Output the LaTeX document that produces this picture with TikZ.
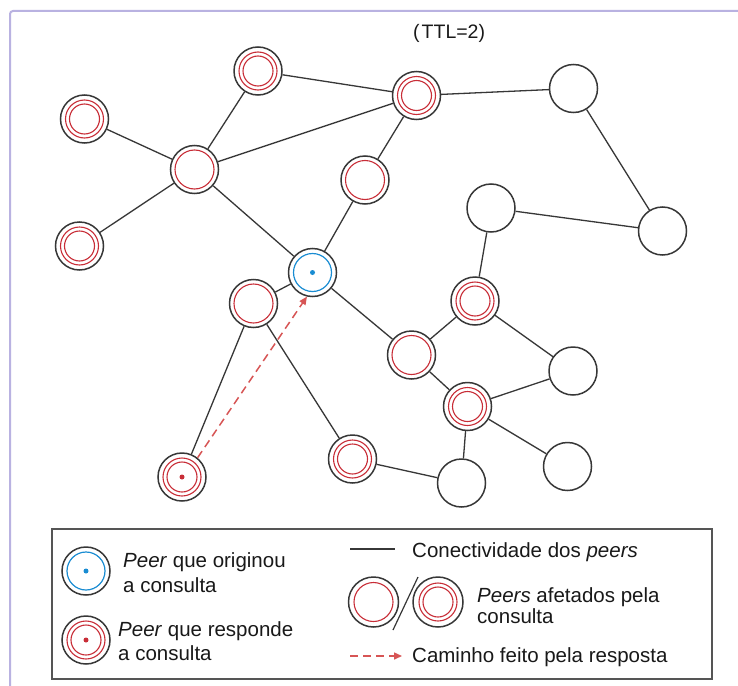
\documentclass[tikz,border=0pt]{standalone}
\usepackage{fontspec}
\setmainfont{Liberation Sans}
\usetikzlibrary{arrows.meta}
\definecolor{edgec}{RGB}{55,55,55}
\definecolor{peerred}{RGB}{200,45,55}
\definecolor{arrowred}{RGB}{215,85,85}
\definecolor{peerblue}{RGB}{25,140,210}
\definecolor{framec}{RGB}{185,178,225}
\definecolor{boxc}{RGB}{85,85,85}
\definecolor{txt}{RGB}{25,25,25}
\newcommand{\lgfont}{\fontsize{20.5}{24}\selectfont}
\newcommand{\ttlfont}{\fontsize{19.5}{23}\selectfont}
\begin{document}
\begin{tikzpicture}[x=1pt,y=-1pt,
  peer/.style={circle,draw=edgec,line width=1.5pt,minimum size=48pt,inner sep=0pt,fill=white},
  redring/.style={draw=peerred,line width=1.1pt},
  bluering/.style={draw=peerblue,line width=1.2pt},
  free/.style={peer},
  one/.style={peer,path picture={\draw[redring] (path picture bounding box.center) circle (19.5);}},
  two/.style={peer,path picture={\draw[redring] (path picture bounding box.center) circle (19) (path picture bounding box.center) circle (15);}},
  orig/.style={peer,path picture={\draw[bluering] (path picture bounding box.center) circle (19); \fill[peerblue] (path picture bounding box.center) circle (2.5);}},
  resp/.style={peer,path picture={\draw[redring] (path picture bounding box.center) circle (19) (path picture bounding box.center) circle (15); \fill[peerred] (path picture bounding box.center) circle (2.5);}},
  link/.style={draw=edgec,line width=1.3pt},
  answer/.style={draw=arrowred,line width=1.5pt,dash pattern=on 8pt off 5pt,-{Triangle[length=8pt,width=7pt]}},
  lbl/.style={inner sep=0pt,anchor=base west,text=txt,font=\lgfont},
  frame/.style={draw=framec,line width=2pt,rounded corners=3pt},
  legendbox/.style={draw=boxc,line width=1.5pt}
]
\useasboundingbox (0,0) rectangle (738,685);
\fill[white] (0,0) rectangle (738,685);
\draw[frame] (10,686) -- (10,11) -- (739,11);

% title
\node[inner sep=0pt,anchor=base west,text=txt,font=\ttlfont] (ttl) at (413,39) {(\hspace{2pt}TTL=2)};

% peers
\node[two]  (A) at (258,71) {};
\node[two]  (B) at (84.5,119) {};
\node[one]  (C) at (194.5,169.5) {};
\node[two]  (D) at (79.5,246) {};
\node[two]  (E) at (416.5,95.5) {};
\node[free] (F) at (573.5,88.5) {};
\node[one]  (G) at (365,180) {};
\node[free] (H) at (491,208) {};
\node[free] (I) at (662.5,231) {};
\node[orig] (J) at (312.5,272.5) {};
\node[one]  (K) at (253.5,303.5) {};
\node[two]  (L) at (475,301) {};
\node[one]  (M) at (411.5,355) {};
\node[free] (N) at (573,371) {};
\node[two]  (O) at (467.5,406.5) {};
\node[resp] (P) at (182,477) {};
\node[two]  (Q) at (352.5,459) {};
\node[free] (R) at (461.5,483) {};
\node[free] (S) at (567.5,466.5) {};

% connections
\path[link] (A) -- (C) (A) -- (E) (B) -- (C) (C) -- (E) (C) -- (D) (C) -- (J)
  (E) -- (F) (E) -- (G) (G) -- (J) (F) -- (I) (H) -- (I) (H) -- (L)
  (J) -- (M) (J) -- (K) (K) -- (P) (K) -- (Q) (L) -- (M) (L) -- (N)
  (M) -- (O) (O) -- (N) (O) -- (R) (O) -- (S) (Q) -- (R);

% answer path
\draw[answer] (P.51) -- (J.257);

% legend
\draw[legendbox] (52,529) rectangle (712,679);
\node[orig] (lgO) at (86,571) {};
\node[resp] (lgR) at (86,640) {};
\node[lbl] (t1a) at (123,567) {\textit{Peer} que originou};
\node[lbl] (t1b) at (123,592) {a consulta};
\node[lbl] (t2a) at (118,636) {\textit{Peer} que responde};
\node[lbl] (t2b) at (118,660) {a consulta};

\coordinate (lc1) at (350,549);
\coordinate (lc2) at (395,549);
\path[link] (lc1) -- (lc2);
\node[lbl] (t3) at (412,557) {Conectividade dos \textit{peers}};

\node[one,minimum size=50pt] (lg1) at (373.5,602) {};
\node[two,minimum size=50pt] (lg2) at (438,602) {};
\coordinate (ls1) at (418,577);
\coordinate (ls2) at (393,630);
\draw[edgec,line width=1.2pt] (ls1) -- (ls2);
\node[lbl] (t4a) at (477,602) {\textit{Peers} afetados pela};
\node[lbl] (t4b) at (477,623) {consulta};

\coordinate (la1) at (350,656);
\coordinate (la2) at (402,656);
\draw[answer] (la1) -- (la2);
\node[lbl] (t5) at (412,662) {Caminho feito pela resposta};
\end{tikzpicture}
\end{document}
